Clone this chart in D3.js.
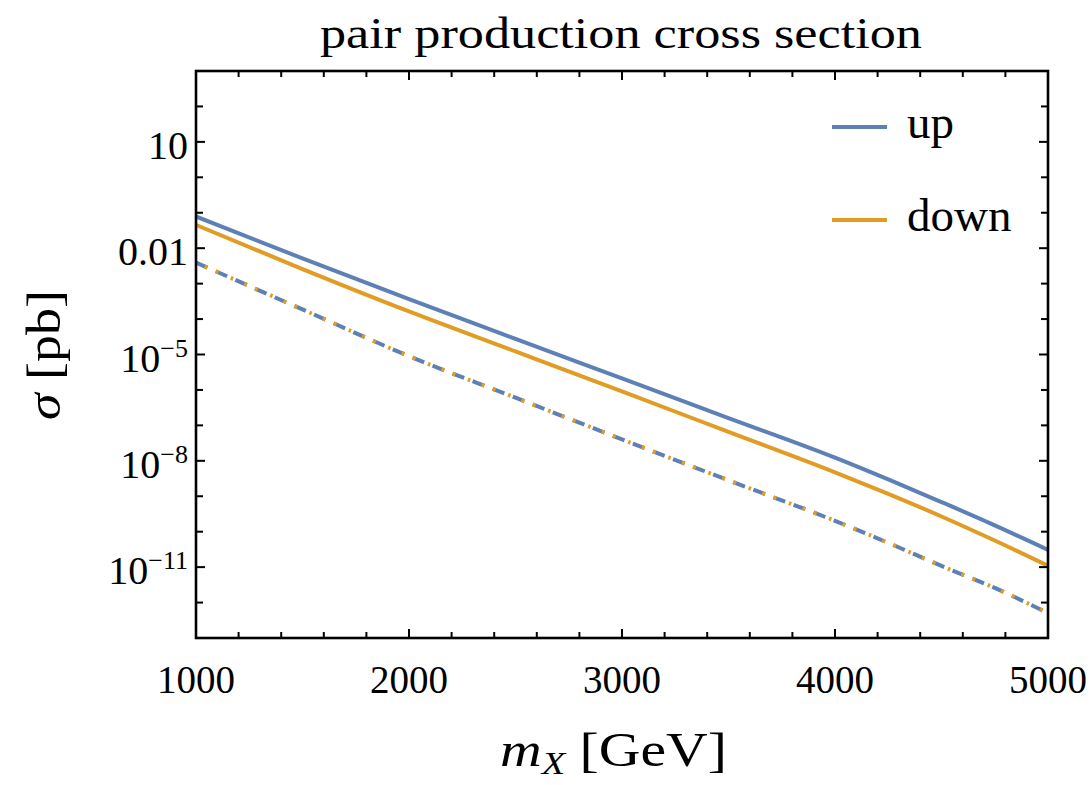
<!DOCTYPE html>
<html>
<head>
<meta charset="utf-8">
<script src="https://cdn.jsdelivr.net/npm/d3@7"></script>
<style>
  html, body { margin: 0; padding: 0; background: #fff; }
  svg { display: block; }
  text { font-family: "Liberation Serif", "Times New Roman", serif; fill: #000; }
</style>
</head>
<body>
<svg id="chart" width="1092" height="785"></svg>
<script>
// ---------------- data ----------------
const masses = [1000, 1500, 2000, 2500, 3000, 3500, 4000, 4250, 4500, 4750, 5000];
const upSolid = [7.8e-2, 5.15e-3, 3.64e-4, 2.76e-5, 2.11e-6, 1.61e-7, 1.23e-8, 2.99e-9, 6.85e-10, 1.51e-10, 3.07e-11];
const downSolid = [4.54e-2, 2.57e-3, 1.64e-4, 1.22e-5, 9.04e-7, 6.56e-8, 4.75e-9, 1.17e-9, 2.69e-10, 5.62e-11, 1.09e-11];
const upDashed = [3.93e-3, 1.87e-4, 8.97e-6, 6.05e-7, 4.03e-8, 2.81e-9, 2.02e-10, 4.84e-11, 1.08e-11, 2.59e-12, 5.02e-13];
const downDashed = [3.93e-3, 1.87e-4, 8.97e-6, 6.05e-7, 4.03e-8, 2.81e-9, 2.02e-10, 4.84e-11, 1.08e-11, 2.59e-12, 5.02e-13];
const seriesNames = ["up", "down"];
const xMajorTicks = [1000, 2000, 3000, 4000, 5000];
const xMinorStep = 200;
const yLabelExps = [1, -2, -5, -8, -11];
const yLabelTexts = ["10", "0.01", "10|−5", "10|−8", "10|−11"];
const yDomain = [1e-13, 1e3];
const xDomain = [1000, 5000];

// ---------------- layout ----------------
const svg = d3.select("#chart");
const L = 196, R = 1048, T = 71, B = 638;
const blue = "#5e81b5", orange = "#e19c24";

const x = d3.scaleLinear().domain(xDomain).range([L, R]);
const y = d3.scaleLog().domain(yDomain).range([B, T]);

svg.append("defs").append("clipPath").attr("id", "clip")
  .append("rect").attr("x", L).attr("y", T).attr("width", R - L).attr("height", B - T);

const line = d3.line().x((d, i) => x(masses[i])).y(d => y(d)).curve(d3.curveMonotoneX);
const g = svg.append("g").attr("clip-path", "url(#clip)");

// dot-dashed curves: blue underneath, orange bits on top
g.append("path").datum(upDashed).attr("d", line)
  .attr("fill", "none").attr("stroke", blue).attr("stroke-width", 4)
  .attr("stroke-dasharray", "12.5 9");
g.append("path").datum(downDashed).attr("d", line)
  .attr("fill", "none").attr("stroke", orange).attr("stroke-width", 4)
  .attr("stroke-dasharray", "3 9 3 13.5 2.5 12").attr("stroke-dashoffset", 33.5);

// solid curves
g.append("path").datum(downSolid).attr("d", line)
  .attr("fill", "none").attr("stroke", orange).attr("stroke-width", 4);
g.append("path").datum(upSolid).attr("d", line)
  .attr("fill", "none").attr("stroke", blue).attr("stroke-width", 4);

// ---------------- frame & ticks ----------------
const ticks = svg.append("g").attr("stroke", "#000").attr("stroke-width", 2);
const xTickVals = d3.range(xDomain[0], xDomain[1] + 1, xMinorStep);
xTickVals.forEach(v => {
  const major = xMajorTicks.includes(v);
  const len = major ? 9 : 6;
  const px = x(v);
  ticks.append("line").attr("x1", px).attr("x2", px).attr("y1", B).attr("y2", B - len);
  ticks.append("line").attr("x1", px).attr("x2", px).attr("y1", T).attr("y2", T + len);
});
const yTickVals = d3.range(-13, 4).map(e => Math.pow(10, e));
yTickVals.forEach(v => {
  const e = Math.round(Math.log10(v));
  const major = yLabelExps.includes(e);
  const len = major ? 9 : 7;
  const py = y(v);
  ticks.append("line").attr("x1", L).attr("x2", L + len).attr("y1", py).attr("y2", py);
  ticks.append("line").attr("x1", R).attr("x2", R - len).attr("y1", py).attr("y2", py);
});
svg.append("rect").attr("x", L).attr("y", T).attr("width", R - L).attr("height", B - T)
  .attr("fill", "none").attr("stroke", "#000").attr("stroke-width", 2.6);

// ---------------- tick labels ----------------
xMajorTicks.forEach(v => {
  svg.append("text").attr("x", x(v)).attr("y", 693).attr("text-anchor", "middle")
    .attr("font-size", 39).text(v);
});
yLabelExps.forEach((e, i) => {
  const t = svg.append("text").attr("x", 188).attr("y", y(Math.pow(10, e)) + 17)
    .attr("text-anchor", "end").attr("font-size", 40);
  const parts = yLabelTexts[i].split("|");
  t.append("tspan").text(parts[0]);
  if (parts[1]) {
    t.append("tspan").attr("font-size", 26).attr("dy", -15).text(parts[1]);
  }
});

// ---------------- titles ----------------
svg.append("text").attr("x", 621).attr("y", 48).attr("text-anchor", "middle")
  .attr("font-size", 44).attr("textLength", 602).attr("lengthAdjust", "spacingAndGlyphs")
  .text("pair production cross section");

const xl = svg.append("text").attr("x", 500).attr("y", 766).attr("font-size", 48)
  .attr("textLength", 227).attr("lengthAdjust", "spacingAndGlyphs");
xl.append("tspan").attr("font-style", "italic").text("m");
xl.append("tspan").attr("font-style", "italic").attr("font-size", 32).attr("dy", 8).text("X");
xl.append("tspan").attr("dy", -8).text(" [GeV]");

const yl = svg.append("text").attr("transform", "translate(60,355) rotate(-90)")
  .attr("text-anchor", "middle").attr("font-size", 48)
  .attr("textLength", 130).attr("lengthAdjust", "spacingAndGlyphs");
yl.append("tspan").attr("font-style", "italic").text("σ");
yl.append("tspan").text(" [pb]");

// ---------------- legend ----------------
const legColors = [blue, orange];
const legY = [127, 220];
seriesNames.forEach((n, i) => {
  svg.append("line").attr("x1", 832).attr("x2", 887).attr("y1", legY[i]).attr("y2", legY[i])
    .attr("stroke", legColors[i]).attr("stroke-width", 4);
  svg.append("text").attr("x", 907).attr("y", legY[i] + 11).attr("font-size", 47).text(n);
});
</script>
</body>
</html>
